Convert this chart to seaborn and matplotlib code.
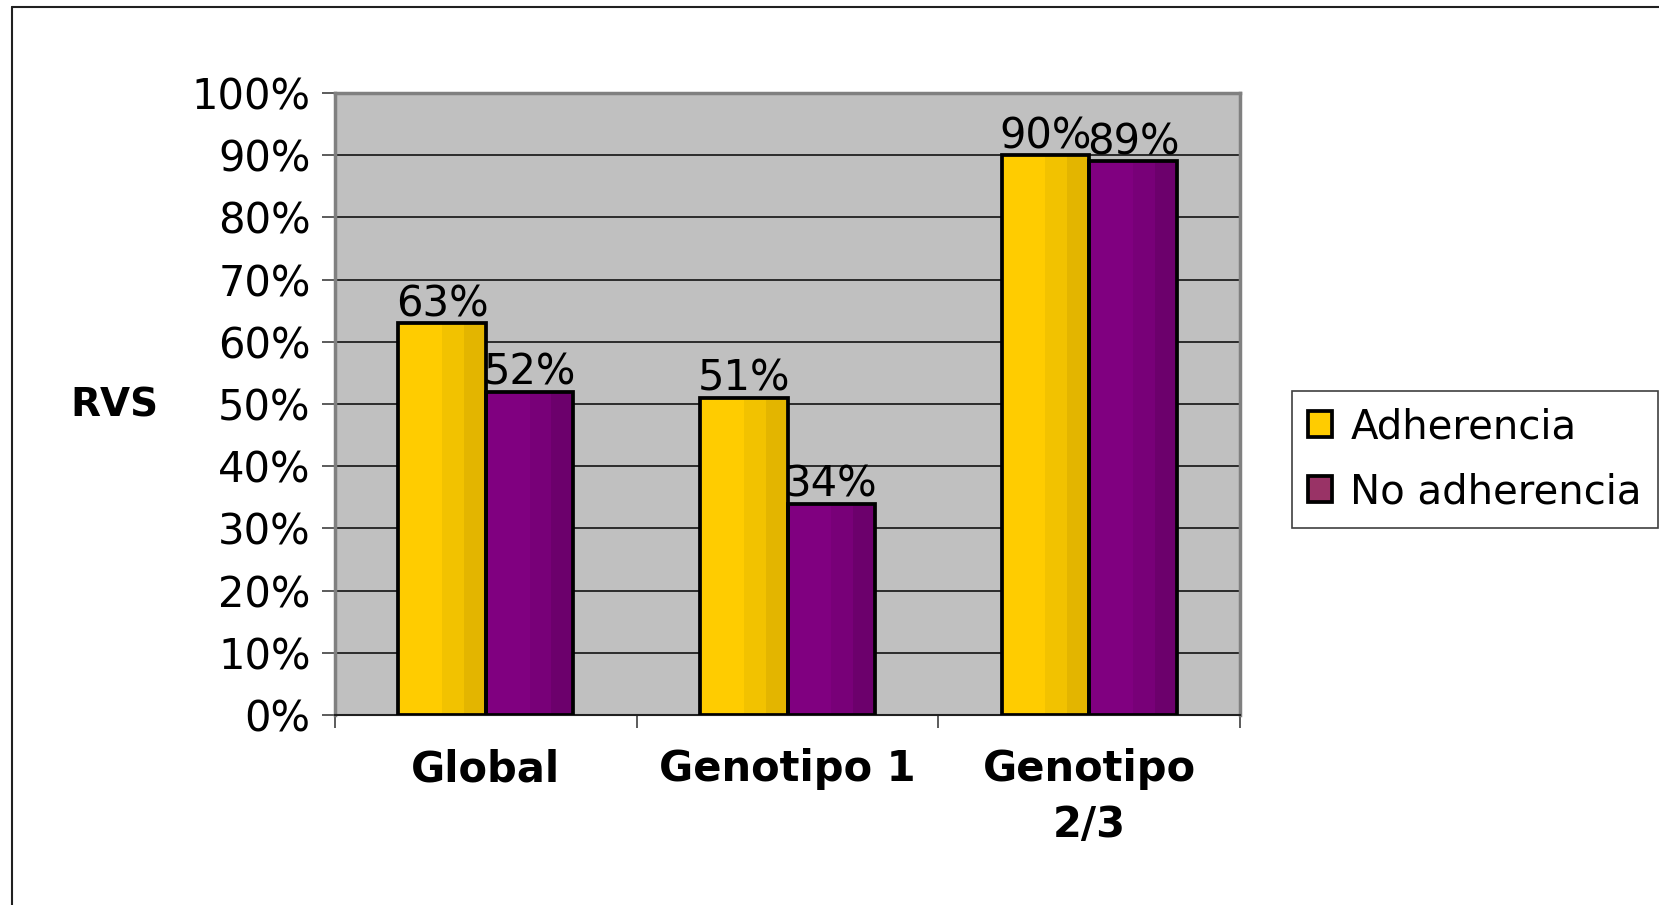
import matplotlib
matplotlib.use('Agg')
import pandas as pd
import matplotlib.pyplot as plt
import seaborn as sns
from matplotlib.patches import Patch, Rectangle
from matplotlib.lines import Line2D
from matplotlib.ticker import FuncFormatter, FixedLocator

# Datos
grupos = ['Global', 'Genotipo 1', 'Genotipo\n2/3']
series = ['Adherencia', 'No adherencia']
adherencia = [63, 51, 90]
no_adherencia = [52, 34, 89]
y_ticks = list(range(0, 101, 10))

colores_barra = {'Adherencia': '#FFCC00', 'No adherencia': '#800080'}
bandas = {'Adherencia': ['#F2C200', '#E3B500'], 'No adherencia': ['#780078', '#6C006C']}
colores_leyenda = {'Adherencia': '#FFCC00', 'No adherencia': '#993366'}

df = pd.DataFrame({
    'grupo': grupos * 2,
    'serie': [series[0]] * 3 + [series[1]] * 3,
    'rvs': adherencia + no_adherencia,
})

sns.set_style('white')
plt.rcParams['font.family'] = ['DejaVu Sans']
plt.rcParams['text.color'] = 'black'
plt.rcParams['xtick.labelcolor'] = 'black'
plt.rcParams['ytick.labelcolor'] = 'black'

fig = plt.figure(figsize=(16.59, 9.05), dpi=100)
ax = fig.add_axes([335 / 1659, 1 - 715 / 905, 905 / 1659, 622 / 905])
ax.set_facecolor('#C0C0C0')

sns.barplot(data=df, x='grupo', y='rvs', hue='serie', palette=colores_barra,
            width=0.58, gap=0, edgecolor='black', linewidth=2.7, saturation=1,
            legend=False, ax=ax, zorder=4)

# Bandas de sombreado vertical en cada barra (estilo Excel)
bars = [p for p in ax.patches if p.get_height() > 0]
for i, p in enumerate(bars):
    serie = series[0] if i < 3 else series[1]
    x0, w, h = p.get_x(), p.get_width(), p.get_height()
    ax.add_patch(Rectangle((x0, 0), w, h, facecolor=colores_barra[serie], lw=0, zorder=3))
    ax.add_patch(Rectangle((x0 + 0.5 * w, 0), 0.25 * w, h, facecolor=bandas[serie][0], lw=0, zorder=3))
    ax.add_patch(Rectangle((x0 + 0.75 * w, 0), 0.25 * w, h, facecolor=bandas[serie][1], lw=0, zorder=3))
    p.set_facecolor('none')
    ax.annotate(f'{h:.0f}%', (x0 + w / 2, h), xytext=(0, 5), textcoords='offset points',
                ha='center', va='baseline', fontsize=30, color='black', zorder=6)

ax.set_ylim(0, 100)
ax.set_xlim(-0.5, 2.5)
ax.yaxis.set_major_locator(FixedLocator(y_ticks))
ax.yaxis.set_major_formatter(FuncFormatter(lambda v, pos: f'{v:.0f}%'))
ax.grid(axis='y', color='#202020', linewidth=1.3, zorder=1)
ax.set_axisbelow(True)

ax.tick_params(axis='y', left=True, length=9.5, width=1.2, color='#404040',
               labelcolor='black', labelsize=30, pad=8)
ax.set_xticks(range(len(grupos)))
ax.set_xticklabels(grupos, fontsize=30, fontweight='bold', linespacing=1.4, color='black')
ax.tick_params(axis='x', which='major', length=0, pad=24)
ax.xaxis.set_minor_locator(FixedLocator([-0.5, 0.5, 1.5, 2.5]))
ax.tick_params(axis='x', which='minor', bottom=True, length=9.5, width=1.2, color='#404040')

for lado in ['left', 'top', 'right']:
    ax.spines[lado].set_color('#808080')
    ax.spines[lado].set_linewidth(2.5)
ax.spines['bottom'].set_color('#202020')
ax.spines['bottom'].set_linewidth(1.5)

ax.set_xlabel('')
ax.set_ylabel('')
fig.text(114 / 1659, 1 - 405 / 905, 'RVS', fontsize=28, fontweight='bold',
         ha='center', va='center', color='black')

handles = [Patch(facecolor=colores_leyenda[s], edgecolor='black', linewidth=2.7) for s in series]
leg = fig.legend(handles, series, loc='upper left', bbox_to_anchor=(1292 / 1659, 1 - 391 / 905),
                 borderaxespad=0, fontsize=29, frameon=True, fancybox=False,
                 handlelength=0.6, handleheight=0.6, handletextpad=0.45,
                 borderpad=0.4, labelspacing=0.62)
for t in leg.get_texts():
    t.set_color('black')
leg.get_frame().set_edgecolor('#404040')
leg.get_frame().set_linewidth(1.2)
leg.get_frame().set_alpha(1)

# Marco exterior del gráfico
fig.add_artist(Line2D([12 / 1659, 1.0], [1 - 7 / 905] * 2, color='#202020', lw=1.5))
fig.add_artist(Line2D([12 / 1659] * 2, [0, 1 - 7 / 905], color='#202020', lw=1.5))

fig.savefig('out.png', dpi=100, facecolor='white')
